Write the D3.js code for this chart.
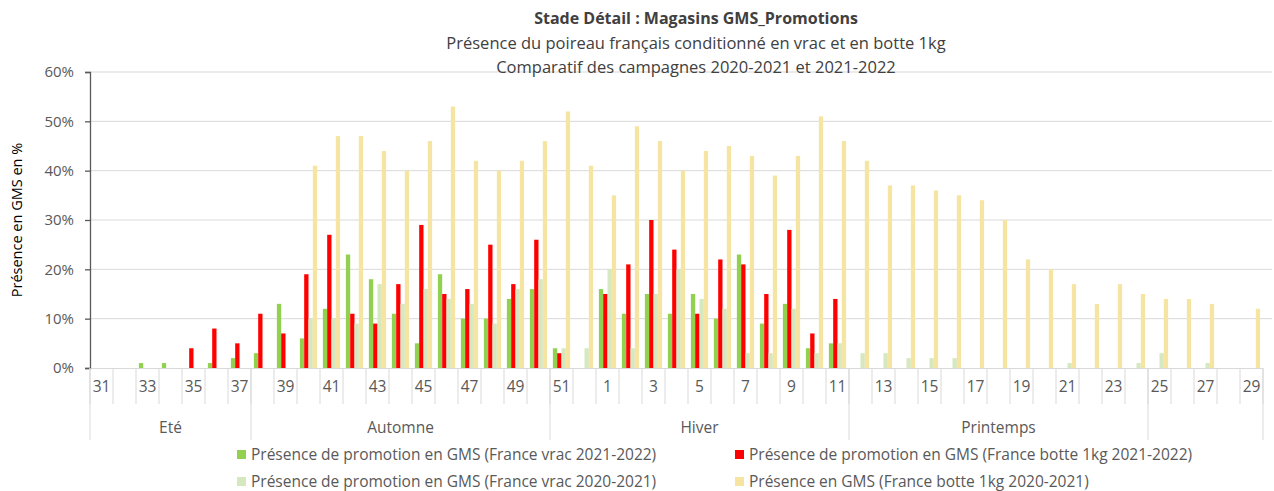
<!DOCTYPE html>
<html>
<head>
<meta charset="utf-8">
<script src="https://cdn.jsdelivr.net/npm/d3@7"></script>
<style>
  body { margin: 0; background: #fff; }
  text { font-family: "Open Sans", "Noto Sans", sans-serif; }
</style>
</head>
<body>
<div id="chart"></div>
<script>
// weeks of the campaign, 31 -> 52 then 1 -> 29
const weeks = [31,32,33,34,35,36,37,38,39,40,41,42,43,44,45,46,47,48,49,50,51,52,
  1,2,3,4,5,6,7,8,9,10,11,12,13,14,15,16,17,18,19,20,21,22,23,24,25,26,27,28,29];

// seasons: label, first week, last week
const seasons = [
  { label: "Eté", from: 31, to: 37 },
  { label: "Automne", from: 38, to: 50 },
  { label: "Hiver", from: 51, to: 11 },
  { label: "Printemps", from: 12, to: 24 },
  { label: "", from: 25, to: 29 }
];

const vrac2122 = [0,0,1,1,0,1,2,3,13,6,12,23,18,11,5,19,10,10,14,16,4,0,
  16,11,15,11,15,10,23,9,13,4,5,0,0,0,0,0,0,0,0,0,0,0,0,0,0,0,0,0,0];
const botte2122 = [0,0,0,0,4,8,5,11,7,19,27,11,9,17,29,15,16,25,17,26,3,0,
  15,21,30,24,11,22,21,15,28,7,14,0,0,0,0,0,0,0,0,0,0,0,0,0,0,0,0,0,0];
const vrac2021 = [0,0,0,0,0,0,0,0,0,10,10,9,17,13,16,14,13,9,16,18,4,4,
  20,4,15,20,14,12,3,3,12,3,5,3,3,2,2,2,0,0,0,0,1,0,0,1,3,0,1,0,0];
const botte2021 = [0,0,0,0,0,0,0,0,0,41,47,47,44,40,46,53,42,40,42,46,52,41,
  35,49,46,40,44,45,43,39,43,51,46,42,37,37,36,35,34,30,22,20,17,13,17,15,14,14,13,0,12];

const yTicks = [0,10,20,30,40,50,60];

const series = [
  { name: "Présence de promotion en GMS (France vrac 2021-2022)", values: vrac2122, color: "#92d050" },
  { name: "Présence de promotion en GMS (France botte 1kg 2021-2022)", values: botte2122, color: "#ff0000" },
  { name: "Présence de promotion en GMS (France vrac 2020-2021)", values: vrac2021, color: "#d5e8bf" },
  { name: "Présence en GMS (France botte 1kg 2020-2021)", values: botte2021, color: "#f5e4a2" }
];

const width = 1274, height = 491;
const margin = { top: 72, right: 11, bottom: 123, left: 90 };

const svg = d3.select("#chart").append("svg")
  .attr("width", width)
  .attr("height", height);

const x0 = d3.scaleBand()
  .domain(d3.range(weeks.length))
  .range([margin.left, width - margin.right])
  .paddingInner(0.25)
  .paddingOuter(0.125);

const x1 = d3.scaleBand()
  .domain(d3.range(series.length))
  .range([0, x0.bandwidth()]);

const y = d3.scaleLinear()
  .domain([0, 60])
  .range([height - margin.bottom, margin.top]);

const step = x0.step();
const left = margin.left, right = width - margin.right;
const y0 = y(0);

// gridlines
svg.append("g")
  .selectAll("line")
  .data(yTicks.filter(d => d > 0))
  .join("line")
  .attr("x1", left).attr("x2", width - 2)
  .attr("y1", d => y(d)).attr("y2", d => y(d))
  .attr("stroke", "#d9d9d9")
  .attr("stroke-width", 1);

// bars
const groups = svg.append("g")
  .selectAll("g")
  .data(weeks.map((w, i) => i))
  .join("g")
  .attr("transform", i => `translate(${x0(i)},0)`);

groups.selectAll("rect")
  .data(i => series.map((s, k) => ({ k, v: s.values[i], color: s.color })))
  .join("rect")
  .attr("x", d => x1(d.k))
  .attr("width", x1.bandwidth())
  .attr("y", d => y(d.v))
  .attr("height", d => y0 - y(d.v))
  .attr("fill", d => d.color);

// x baseline
svg.append("line")
  .attr("x1", left).attr("x2", right)
  .attr("y1", y0 + 0.5).attr("y2", y0 + 0.5)
  .attr("stroke", "#d9d9d9");

// y axis
const yAxis = svg.append("g")
  .attr("transform", `translate(${left},0)`)
  .call(d3.axisLeft(y).tickValues(yTicks).tickSize(5).tickFormat(d => d + "%"));
yAxis.select(".domain").attr("stroke", "#595959").attr("stroke-width", 1.3);
yAxis.selectAll(".tick line").attr("stroke", "#595959").attr("stroke-width", 1.3);
yAxis.selectAll(".tick text")
  .attr("x", -16)
  .attr("fill", "#595959")
  .style("font-size", "15px")
  .style("font-family", "'Open Sans', sans-serif");

// week ticks row
const weekRowBottom = y0 + 36;
const seasonRowBottom = y0 + 72;

svg.append("g")
  .selectAll("line")
  .data(d3.range(weeks.length + 1))
  .join("line")
  .attr("x1", i => left + i * step).attr("x2", i => left + i * step)
  .attr("y1", y0).attr("y2", weekRowBottom)
  .attr("stroke", "#d9d9d9");

svg.append("g")
  .selectAll("text")
  .data(weeks.map((w, i) => ({ w, i })).filter(d => d.i % 2 === 0))
  .join("text")
  .attr("x", d => x0(d.i) + x0.bandwidth() / 2)
  .attr("y", y0 + 24)
  .attr("text-anchor", "middle")
  .attr("fill", "#595959")
  .style("font-size", "15.5px")
  .text(d => d.w);

// seasons row
const seasonIdx = seasons.map(s => ({
  label: s.label,
  a: weeks.indexOf(s.from),
  b: weeks.indexOf(s.to) + 1
}));

svg.append("g")
  .selectAll("line")
  .data([0].concat(seasonIdx.map(s => s.b)))
  .join("line")
  .attr("x1", i => left + i * step).attr("x2", i => left + i * step)
  .attr("y1", y0).attr("y2", seasonRowBottom)
  .attr("stroke", "#d9d9d9");

svg.append("g")
  .selectAll("text")
  .data(seasonIdx)
  .join("text")
  .attr("x", s => left + (s.a + s.b) / 2 * step)
  .attr("y", y0 + 65)
  .attr("text-anchor", "middle")
  .attr("fill", "#595959")
  .style("font-size", "15.5px")
  .text(s => s.label);

// y label
svg.append("text")
  .attr("transform", `translate(22,${(margin.top + y0) / 2}) rotate(-90)`)
  .attr("text-anchor", "middle")
  .attr("fill", "#000")
  .style("font-size", "14.5px")
  .text("Présence en GMS en %");

// titles
const cx = 696;
svg.append("text")
  .attr("x", cx).attr("y", 24)
  .attr("text-anchor", "middle")
  .attr("fill", "#404040")
  .style("font-size", "16px")
  .style("font-weight", "bold")
  .text("Stade Détail : Magasins GMS_Promotions");
svg.append("text")
  .attr("x", cx).attr("y", 49)
  .attr("text-anchor", "middle")
  .attr("fill", "#404040")
  .style("font-size", "16.5px")
  .text("Présence du poireau français conditionné en vrac et en botte 1kg");
svg.append("text")
  .attr("x", cx).attr("y", 73)
  .attr("text-anchor", "middle")
  .attr("fill", "#404040")
  .style("font-size", "16.5px")
  .text("Comparatif des campagnes 2020-2021 et 2021-2022");

// legend
const legendPos = [
  { x: 237, y: 455 }, { x: 735, y: 455 },
  { x: 237, y: 482 }, { x: 735, y: 482 }
];
const legend = svg.append("g")
  .selectAll("g")
  .data(series)
  .join("g")
  .attr("transform", (d, i) => `translate(${legendPos[i].x},${legendPos[i].y})`);
legend.append("rect")
  .attr("x", 0).attr("y", -5)
  .attr("width", 9).attr("height", 9)
  .attr("fill", d => d.color);
legend.append("text")
  .attr("x", 14).attr("y", 5)
  .attr("fill", "#595959")
  .style("font-size", "15.5px")
  .text(d => d.name);
</script>
</body>
</html>
